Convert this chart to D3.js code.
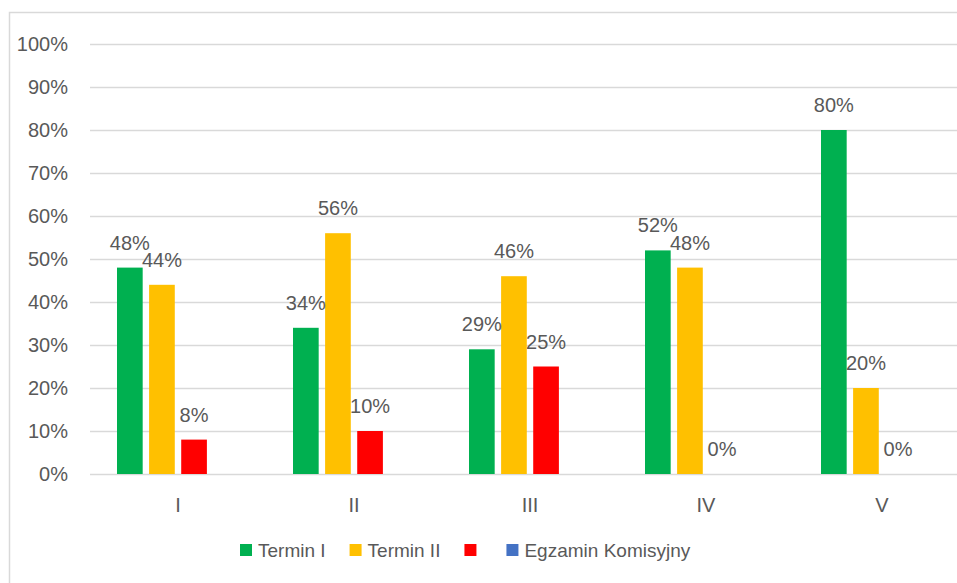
<!DOCTYPE html>
<html>
<head>
<meta charset="utf-8">
<script src="https://cdn.jsdelivr.net/npm/d3@7"></script>
<style>
  body { margin: 0; background: #fff; }
  svg { display: block; font-family: "Liberation Sans", Arial, sans-serif; }
</style>
</head>
<body>
<div id="chart"></div>
<script>
// Chart data
const categories = ["I", "II", "III", "IV", "V"];
const seriesNames = ["Termin I", "Termin II", "", "Egzamin Komisyjny"];
const seriesColors = ["#00B050", "#FFC000", "#FF0000", "#4472C4"];
const terminI = [48, 34, 29, 52, 80];
const terminII = [44, 56, 46, 48, 20];
const terminIII = [8, 10, 25, 0, 0];
const komisyjny = [null, null, null, null, null];
const yTicks = [0, 10, 20, 30, 40, 50, 60, 70, 80, 90, 100];

const seriesValues = [terminI, terminII, terminIII, komisyjny];

const width = 957, height = 583;
const margin = {top: 44, left: 90, bottom: 109};
const plotRight = 970; // plot area runs past the picture edge

const svg = d3.select("#chart").append("svg")
    .attr("width", width)
    .attr("height", height);

// Outer chart border
svg.append("rect")
    .attr("x", 9.5).attr("y", 12.5)
    .attr("width", 980).attr("height", 600)
    .attr("fill", "none")
    .attr("stroke", "#d9d9d9")
    .attr("stroke-width", 1.5);

const xScale = d3.scaleBand()
    .domain(categories)
    .range([margin.left, plotRight]);

const xSub = d3.scaleBand()
    .domain(d3.range(seriesNames.length))
    .range([27, xScale.bandwidth() - 27])
    .paddingInner(0.2);

const yScale = d3.scaleLinear()
    .domain([0, 100])
    .range([height - margin.bottom, margin.top]);

// Y grid lines and labels
const yAxis = svg.append("g")
    .attr("transform", `translate(${margin.left},0)`)
    .call(d3.axisLeft(yScale).tickValues(yTicks).tickSize(-(plotRight - margin.left)).tickPadding(22).tickFormat((d) => d + "%"));

yAxis.select(".domain").remove();
yAxis.selectAll(".tick line")
    .attr("stroke", "#d9d9d9")
    .attr("stroke-width", 1.5);
yAxis.selectAll("text")
    .style("font-size", "20px")
    .attr("fill", "#595959");

// X category labels
const xAxis = svg.append("g")
    .attr("transform", `translate(0,${yScale(0)})`)
    .call(d3.axisBottom(xScale).tickSize(0).tickPadding(24));

xAxis.select(".domain").remove();
xAxis.selectAll("text")
    .style("font-size", "20px")
    .attr("fill", "#595959");

// Bars and value labels
const barData = [];
seriesValues.forEach((vals, s) => {
    vals.forEach((v, i) => {
        if (v !== null) barData.push({cat: categories[i], s: s, value: v});
    });
});

svg.selectAll("rect.bar")
    .data(barData)
    .join("rect")
        .attr("class", "bar")
        .attr("x", (d) => xScale(d.cat) + xSub(d.s))
        .attr("y", (d) => yScale(d.value))
        .attr("width", xSub.bandwidth())
        .attr("height", (d) => yScale(0) - yScale(d.value))
        .attr("fill", (d) => seriesColors[d.s]);

svg.selectAll("text.value")
    .data(barData)
    .join("text")
        .attr("class", "value")
        .text((d) => d.value + "%")
        .attr("x", (d) => xScale(d.cat) + xSub(d.s) + xSub.bandwidth() / 2)
        .attr("y", (d) => yScale(d.value) - 18)
        .style("text-anchor", "middle")
        .style("font-size", "20px")
        .attr("fill", "#595959");

// Legend
const legend = svg.append("g")
    .attr("transform", "translate(240,550)");

let lx = 0;
seriesNames.forEach((name, s) => {
    const item = legend.append("g").attr("transform", `translate(${lx},0)`);
    item.append("rect")
        .attr("x", 0).attr("y", -6)
        .attr("width", 12).attr("height", 12)
        .attr("fill", seriesColors[s]);
    const t = item.append("text")
        .text(name)
        .attr("x", 18)
        .attr("dy", "0.35em")
        .style("font-size", "19px")
        .attr("fill", "#595959");
    const w = name ? t.node().getComputedTextLength() : 0;
    lx += 12 + 6 + w + 24;
});
</script>
</body>
</html>
